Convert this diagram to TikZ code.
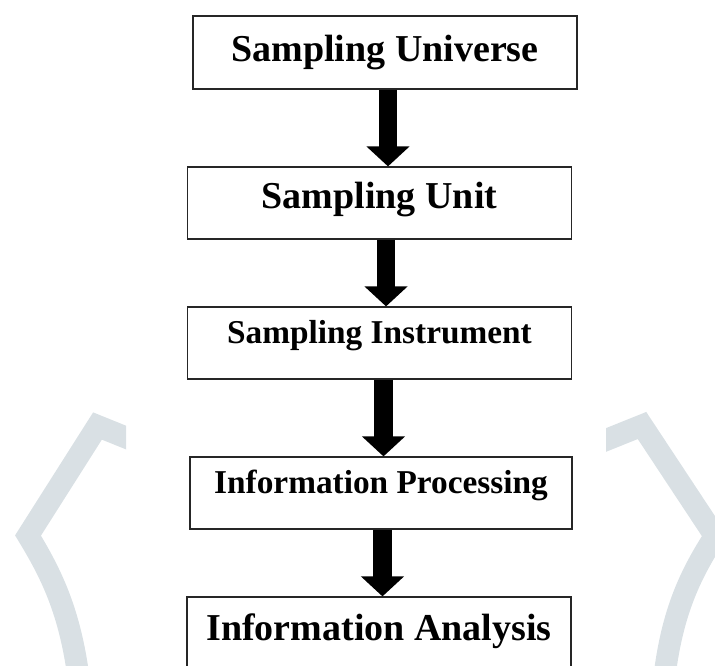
\documentclass[tikz,border=0pt]{standalone}
\usepackage{fontspec}
\setmainfont{Liberation Serif}
\usetikzlibrary{arrows.meta}

\definecolor{bracketgray}{RGB}{217,224,228}

\tikzset{
  stage/.style={draw=black!85, line width=0.9pt, rectangle, inner sep=0pt,
    minimum width=288pt, anchor=base, font=\bfseries\fontsize{28.5}{30}\selectfont},
  stagesmall/.style={stage, font=\bfseries\fontsize{25}{27}\selectfont},
  flow/.style={line width=14pt, -{Triangle[width=31.5pt,length=15pt]}},
  bracketline/.style={draw=bracketgray, line width=16.5pt, line join=miter}
}

\begin{document}
\begin{tikzpicture}[x=0.75pt,y=-0.75pt]

\useasboundingbox (0,0) rectangle (715,665);

% faint brackets behind the chart (ends cut square)
\begin{scope}
  \clip (0,380) rectangle (126,700);
  \draw[bracketline] (140,443.2) -- (97.5,426) -- (28,535.5)
    .. controls (52,575) and (72,615) .. (80,690);
\end{scope}
\begin{scope}
  \clip (606,380) rectangle (740,700);
  \draw[bracketline] (592,445.6) -- (642,425.5) -- (715,536)
    .. controls (690,575) and (670,615) .. (663,690);
\end{scope}

% stages
\node[stage, text height=33.75pt, text depth=21pt] (universe) at (385,61) {Sampling Universe};
\node[stage, text height=30.75pt, text depth=23.25pt] (unit) at (379.5,208) {Sampling Unit};
\node[stagesmall, text height=27pt, text depth=27pt] (instrument) at (379.5,343) {Sampling Instrument};
\node[stagesmall, text height=27pt, text depth=27pt, minimum width=286.5pt] (processing) at (381,493) {Information Processing};
\node[stage, text height=32.25pt, text depth=30pt] (analysis) at (379,640) {Information Analysis};

% arrows between stages
\draw[flow] ([xshift=2.25pt]universe.south) -- ([xshift=2.25pt]universe.south |- unit.north);
\draw[flow] ([xshift=4.9pt]unit.south) -- ([xshift=4.9pt]unit.south |- instrument.north);
\draw[flow] ([xshift=3pt]instrument.south) -- ([xshift=3pt]instrument.south |- processing.north);
\draw[flow] ([xshift=1.1pt]processing.south) -- ([xshift=1.1pt]processing.south |- analysis.north);

\end{tikzpicture}
\end{document}
